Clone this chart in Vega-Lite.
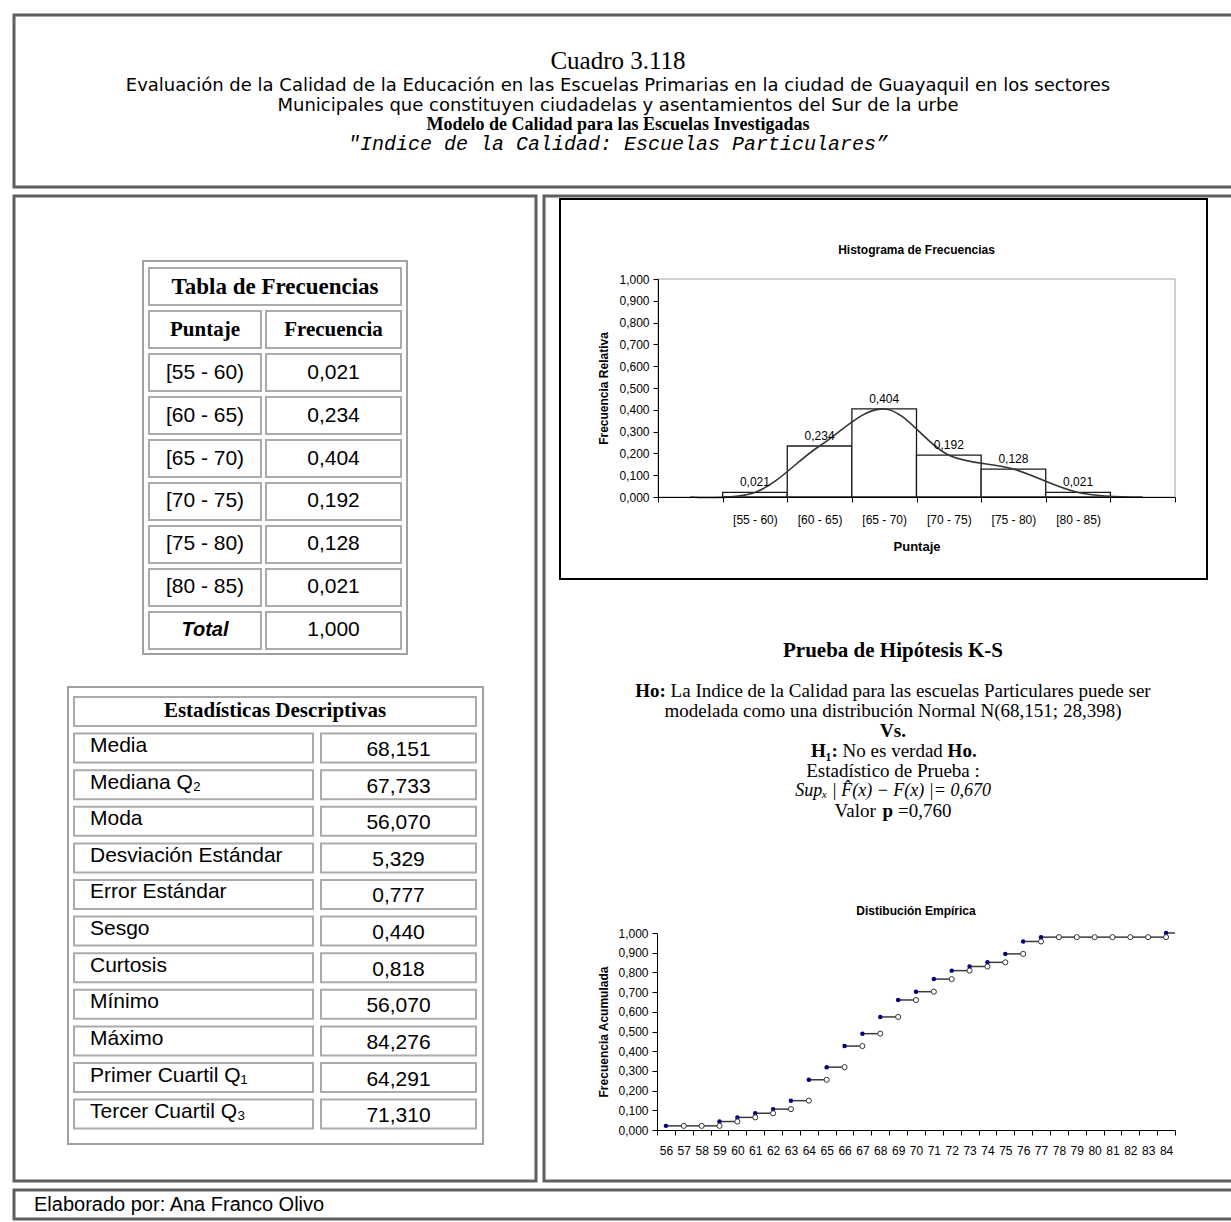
{
  "$schema": "https://vega.github.io/schema/vega-lite/v6.json",
  "padding": {"left": 12, "top": 13, "right": 0, "bottom": 0},
  "background": "white",
  "spacing": 5,
  "datasets": {
    "titulo": [
      {"linea": "cuadro", "texto": "Cuadro 3.118"},
      {"linea": "l1", "texto": "Evaluación de la Calidad de la Educación en las Escuelas Primarias en la ciudad de Guayaquil en los sectores"},
      {"linea": "l2", "texto": "Municipales que constituyen ciudadelas y asentamientos del Sur de la urbe"},
      {"linea": "modelo", "texto": "Modelo de Calidad para las Escuelas Investigadas"},
      {"linea": "indice", "texto": "\"Indice de la Calidad: Escuelas Particulares”"}
    ],
    "tablas": [{"tabla": "Tabla de Frecuencias"}, {"tabla": "Estadísticas Descriptivas"}],
    "columnas": [{"columna": "Puntaje"}, {"columna": "Frecuencia"}],
    "frecuencias": [
      {"Puntaje": "[55 - 60)", "desde": 55, "hasta": 60, "marca": 57.5, "Frecuencia": 0.021},
      {"Puntaje": "[60 - 65)", "desde": 60, "hasta": 65, "marca": 62.5, "Frecuencia": 0.234},
      {"Puntaje": "[65 - 70)", "desde": 65, "hasta": 70, "marca": 67.5, "Frecuencia": 0.404},
      {"Puntaje": "[70 - 75)", "desde": 70, "hasta": 75, "marca": 72.5, "Frecuencia": 0.192},
      {"Puntaje": "[75 - 80)", "desde": 75, "hasta": 80, "marca": 77.5, "Frecuencia": 0.128},
      {"Puntaje": "[80 - 85)", "desde": 80, "hasta": 85, "marca": 82.5, "Frecuencia": 0.021}
    ],
    "total": [{"Puntaje": "Total", "Frecuencia": 1.0}],
    "estadisticas": [
      {"estadistico": "Media", "valor": 68.151},
      {"estadistico": "Mediana   Q₂", "valor": 67.733},
      {"estadistico": "Moda", "valor": 56.070},
      {"estadistico": "Desviación Estándar", "valor": 5.329},
      {"estadistico": "Error Estándar", "valor": 0.777},
      {"estadistico": "Sesgo", "valor": 0.440},
      {"estadistico": "Curtosis", "valor": 0.818},
      {"estadistico": "Mínimo", "valor": 56.070},
      {"estadistico": "Máximo", "valor": 84.276},
      {"estadistico": "Primer Cuartil  Q₁", "valor": 64.291},
      {"estadistico": "Tercer Cuartil Q₃", "valor": 71.310}
    ],
    "graficos": [{"grafico": "Histograma de Frecuencias"}, {"grafico": "Distibución Empírica"}],
    "curva": [
      {"marca": 52.5, "Frecuencia": 0},
      {"marca": 57.5, "Frecuencia": 0.021},
      {"marca": 62.5, "Frecuencia": 0.234},
      {"marca": 67.5, "Frecuencia": 0.404},
      {"marca": 72.5, "Frecuencia": 0.192},
      {"marca": 77.5, "Frecuencia": 0.128},
      {"marca": 82.5, "Frecuencia": 0.021},
      {"marca": 87.5, "Frecuencia": 0}
    ],
    "prueba": [
      {"linea": "titulo", "tramo": 1, "texto": "Prueba de Hipótesis K-S"},
      {"linea": "ho", "tramo": 1, "texto": "Ho:"},
      {"linea": "ho", "tramo": 2, "texto": "La Indice de la Calidad para las escuelas Particulares puede ser"},
      {"linea": "modelada", "tramo": 1, "texto": "modelada como una distribución Normal N(68,151; 28,398)"},
      {"linea": "vs", "tramo": 1, "texto": "Vs."},
      {"linea": "h1", "tramo": 1, "texto": "H₁:"},
      {"linea": "h1", "tramo": 2, "texto": "No es verdad"},
      {"linea": "h1", "tramo": 3, "texto": "Ho."},
      {"linea": "estadistico", "tramo": 1, "texto": "Estadístico de Prueba :"},
      {"linea": "sup", "tramo": 1, "texto": "Supₓ | F̂(x) − F(x) |= 0,670"},
      {"linea": "valor", "tramo": 1, "texto": "Valor"},
      {"linea": "valor", "tramo": 2, "texto": "p"},
      {"linea": "valor", "tramo": 3, "texto": "=0,760"}
    ],
    "empirica": [
      {"puntaje": 56, "siguiente": 57, "acumulada": 0.021},
      {"puntaje": 57, "siguiente": 58, "acumulada": 0.021},
      {"puntaje": 58, "siguiente": 59, "acumulada": 0.021},
      {"puntaje": 59, "siguiente": 60, "acumulada": 0.043},
      {"puntaje": 60, "siguiente": 61, "acumulada": 0.064},
      {"puntaje": 61, "siguiente": 62, "acumulada": 0.085},
      {"puntaje": 62, "siguiente": 63, "acumulada": 0.106},
      {"puntaje": 63, "siguiente": 64, "acumulada": 0.149},
      {"puntaje": 64, "siguiente": 65, "acumulada": 0.255},
      {"puntaje": 65, "siguiente": 66, "acumulada": 0.319},
      {"puntaje": 66, "siguiente": 67, "acumulada": 0.426},
      {"puntaje": 67, "siguiente": 68, "acumulada": 0.489},
      {"puntaje": 68, "siguiente": 69, "acumulada": 0.574},
      {"puntaje": 69, "siguiente": 70, "acumulada": 0.660},
      {"puntaje": 70, "siguiente": 71, "acumulada": 0.702},
      {"puntaje": 71, "siguiente": 72, "acumulada": 0.766},
      {"puntaje": 72, "siguiente": 73, "acumulada": 0.809},
      {"puntaje": 73, "siguiente": 74, "acumulada": 0.830},
      {"puntaje": 74, "siguiente": 75, "acumulada": 0.851},
      {"puntaje": 75, "siguiente": 76, "acumulada": 0.894},
      {"puntaje": 76, "siguiente": 77, "acumulada": 0.957},
      {"puntaje": 77, "siguiente": 78, "acumulada": 0.979},
      {"puntaje": 78, "siguiente": 79, "acumulada": 0.979},
      {"puntaje": 79, "siguiente": 80, "acumulada": 0.979},
      {"puntaje": 80, "siguiente": 81, "acumulada": 0.979},
      {"puntaje": 81, "siguiente": 82, "acumulada": 0.979},
      {"puntaje": 82, "siguiente": 83, "acumulada": 0.979},
      {"puntaje": 83, "siguiente": 84, "acumulada": 0.979},
      {"puntaje": 84, "siguiente": 84.5, "acumulada": 1.0}
    ],
    "pie": [{"texto": "Elaborado por: Ana  Franco Olivo"}]
  },
  "vconcat": [
    {
      "width": 1230,
      "height": 172,
      "view": {"stroke": "#5f5f5f", "strokeWidth": 3},
      "data": {"name": "titulo"},
      "encoding": {
        "y": {"field": "linea", "type": "nominal", "scale": {"type": "point", "domain": ["cuadro", "l1", "l2", "modelo", "indice"], "range": [55, 127], "padding": 0}, "axis": null},
        "text": {"field": "texto"}
      },
      "layer": [
        {"transform": [{"filter": "datum.linea == 'cuadro'"}], "mark": {"type": "text", "font": "Liberation Serif", "fontSize": 25, "dx": -11, "dy": -9, "color": "#000"}},
        {"transform": [{"filter": "datum.linea == 'l1'"}], "mark": {"type": "text", "font": "DejaVu Sans", "fontSize": 18, "dx": -11, "dy": -2, "color": "#000"}},
        {"transform": [{"filter": "datum.linea == 'l2'"}], "mark": {"type": "text", "font": "DejaVu Sans", "fontSize": 18, "dx": -11, "color": "#000"}},
        {"transform": [{"filter": "datum.linea == 'modelo'"}], "mark": {"type": "text", "font": "Liberation Serif", "fontWeight": "bold", "fontSize": 18, "dx": -11, "dy": 1, "color": "#000"}},
        {"transform": [{"filter": "datum.linea == 'indice'"}], "mark": {"type": "text", "font": "Liberation Mono", "fontStyle": "italic", "fontSize": 20, "dx": -11, "dy": 2, "color": "#000"}}
      ]
    },
    {
      "spacing": 4,
      "hconcat": [
        {
          "width": 522,
          "height": 985,
          "view": {"stroke": "#5f5f5f", "strokeWidth": 3},
          "resolve": {"scale": {"x": "independent", "y": "independent"}},
          "layer": [
            {
              "data": {"name": "tablas"},
              "transform": [{"filter": "datum.tabla == 'Tabla de Frecuencias'"}],
              "mark": {"type": "rect", "fill": "white", "fillOpacity": 0, "stroke": "#a0a0a0", "strokeWidth": 2},
              "encoding": {
                "x": {"field": "tabla", "type": "nominal", "scale": {"type": "band", "domain": ["Tabla de Frecuencias"], "range": [129, 393], "paddingInner": 0, "paddingOuter": 0}, "axis": null},
                "y": {"field": "tabla", "type": "nominal", "scale": {"type": "band", "domain": ["Tabla de Frecuencias"], "range": [65, 458], "paddingInner": 0, "paddingOuter": 0}, "axis": null}
              }
            },
            {
              "data": {"name": "tablas"},
              "transform": [{"filter": "datum.tabla == 'Tabla de Frecuencias'"}],
              "encoding": {
                "x": {"field": "tabla", "type": "nominal", "scale": {"type": "band", "domain": ["Tabla de Frecuencias"], "range": [135, 387], "paddingInner": 0, "paddingOuter": 0}, "axis": null},
                "y": {"field": "tabla", "type": "nominal", "scale": {"type": "band", "domain": ["Tabla de Frecuencias", "Puntaje", "[55 - 60)", "[60 - 65)", "[65 - 70)", "[70 - 75)", "[75 - 80)", "[80 - 85)", "Total"], "range": [72, 453], "paddingInner": 0.1395, "paddingOuter": 0}, "axis": null}
              },
              "layer": [
                {"mark": {"type": "rect", "fill": "white", "stroke": "#ababab", "strokeWidth": 2}},
                {"mark": {"type": "text", "font": "Liberation Serif", "fontWeight": "bold", "fontSize": 23, "color": "#000"}, "encoding": {"text": {"field": "tabla"}}}
              ]
            },
            {
              "encoding": {
                "x": {"datum": "Puntaje", "type": "nominal", "scale": {"type": "band", "domain": ["Puntaje"], "range": [135, 247], "paddingInner": 0, "paddingOuter": 0}, "axis": null}
              },
              "layer": [
                {
                  "data": {"name": "columnas"},
                  "transform": [{"filter": "datum.columna == 'Puntaje'"}],
                  "encoding": {"y": {"datum": "Puntaje", "type": "nominal", "scale": {"type": "band", "domain": ["Tabla de Frecuencias", "Puntaje", "[55 - 60)", "[60 - 65)", "[65 - 70)", "[70 - 75)", "[75 - 80)", "[80 - 85)", "Total"], "range": [72, 453], "paddingInner": 0.1395, "paddingOuter": 0}, "axis": null}},
                  "layer": [
                    {"mark": {"type": "rect", "fill": "white", "stroke": "#ababab", "strokeWidth": 2}},
                    {"mark": {"type": "text", "font": "Liberation Serif", "fontWeight": "bold", "fontSize": 21, "color": "#000"}, "encoding": {"text": {"field": "columna"}}}
                  ]
                },
                {
                  "data": {"name": "frecuencias"},
                  "encoding": {"y": {"field": "Puntaje", "type": "nominal", "scale": {"type": "band", "domain": ["Tabla de Frecuencias", "Puntaje", "[55 - 60)", "[60 - 65)", "[65 - 70)", "[70 - 75)", "[75 - 80)", "[80 - 85)", "Total"], "range": [72, 453], "paddingInner": 0.1395, "paddingOuter": 0}, "axis": null}},
                  "layer": [
                    {"mark": {"type": "rect", "fill": "white", "stroke": "#ababab", "strokeWidth": 2}},
                    {"mark": {"type": "text", "font": "Liberation Sans", "fontSize": 21, "color": "#000"}, "encoding": {"text": {"field": "Puntaje"}}}
                  ]
                },
                {
                  "data": {"name": "total"},
                  "encoding": {"y": {"field": "Puntaje", "type": "nominal", "scale": {"type": "band", "domain": ["Tabla de Frecuencias", "Puntaje", "[55 - 60)", "[60 - 65)", "[65 - 70)", "[70 - 75)", "[75 - 80)", "[80 - 85)", "Total"], "range": [72, 453], "paddingInner": 0.1395, "paddingOuter": 0}, "axis": null}},
                  "layer": [
                    {"mark": {"type": "rect", "fill": "white", "stroke": "#ababab", "strokeWidth": 2}},
                    {"mark": {"type": "text", "font": "Liberation Sans", "fontWeight": "bold", "fontStyle": "italic", "fontSize": 20, "color": "#000"}, "encoding": {"text": {"field": "Puntaje"}}}
                  ]
                }
              ]
            },
            {
              "encoding": {
                "x": {"datum": "Frecuencia", "type": "nominal", "scale": {"type": "band", "domain": ["Frecuencia"], "range": [252, 387], "paddingInner": 0, "paddingOuter": 0}, "axis": null}
              },
              "layer": [
                {
                  "data": {"name": "columnas"},
                  "transform": [{"filter": "datum.columna == 'Frecuencia'"}],
                  "encoding": {"y": {"datum": "Puntaje", "type": "nominal", "scale": {"type": "band", "domain": ["Tabla de Frecuencias", "Puntaje", "[55 - 60)", "[60 - 65)", "[65 - 70)", "[70 - 75)", "[75 - 80)", "[80 - 85)", "Total"], "range": [72, 453], "paddingInner": 0.1395, "paddingOuter": 0}, "axis": null}},
                  "layer": [
                    {"mark": {"type": "rect", "fill": "white", "stroke": "#ababab", "strokeWidth": 2}},
                    {"mark": {"type": "text", "font": "Liberation Serif", "fontWeight": "bold", "fontSize": 21, "color": "#000"}, "encoding": {"text": {"field": "columna"}}}
                  ]
                },
                {
                  "data": {"name": "frecuencias"},
                  "encoding": {"y": {"field": "Puntaje", "type": "nominal", "scale": {"type": "band", "domain": ["Tabla de Frecuencias", "Puntaje", "[55 - 60)", "[60 - 65)", "[65 - 70)", "[70 - 75)", "[75 - 80)", "[80 - 85)", "Total"], "range": [72, 453], "paddingInner": 0.1395, "paddingOuter": 0}, "axis": null}},
                  "layer": [
                    {"mark": {"type": "rect", "fill": "white", "stroke": "#ababab", "strokeWidth": 2}},
                    {"mark": {"type": "text", "font": "Liberation Sans", "fontSize": 21, "color": "#000"}, "encoding": {"text": {"field": "Frecuencia", "type": "quantitative", "format": ".3f"}}}
                  ]
                },
                {
                  "data": {"name": "total"},
                  "encoding": {"y": {"field": "Puntaje", "type": "nominal", "scale": {"type": "band", "domain": ["Tabla de Frecuencias", "Puntaje", "[55 - 60)", "[60 - 65)", "[65 - 70)", "[70 - 75)", "[75 - 80)", "[80 - 85)", "Total"], "range": [72, 453], "paddingInner": 0.1395, "paddingOuter": 0}, "axis": null}},
                  "layer": [
                    {"mark": {"type": "rect", "fill": "white", "stroke": "#ababab", "strokeWidth": 2}},
                    {"mark": {"type": "text", "font": "Liberation Sans", "fontSize": 21, "color": "#000"}, "encoding": {"text": {"field": "Frecuencia", "type": "quantitative", "format": ".3f"}}}
                  ]
                }
              ]
            },
            {
              "data": {"name": "tablas"},
              "transform": [{"filter": "datum.tabla == 'Estadísticas Descriptivas'"}],
              "mark": {"type": "rect", "fill": "white", "fillOpacity": 0, "stroke": "#a0a0a0", "strokeWidth": 2},
              "encoding": {
                "x": {"field": "tabla", "type": "nominal", "scale": {"type": "band", "domain": ["Estadísticas Descriptivas"], "range": [54, 469], "paddingInner": 0, "paddingOuter": 0}, "axis": null},
                "y": {"field": "tabla", "type": "nominal", "scale": {"type": "band", "domain": ["Estadísticas Descriptivas"], "range": [491, 948], "paddingInner": 0, "paddingOuter": 0}, "axis": null}
              }
            },
            {
              "data": {"name": "tablas"},
              "transform": [{"filter": "datum.tabla == 'Estadísticas Descriptivas'"}],
              "encoding": {
                "x": {"field": "tabla", "type": "nominal", "scale": {"type": "band", "domain": ["Estadísticas Descriptivas"], "range": [60, 462], "paddingInner": 0, "paddingOuter": 0}, "axis": null},
                "y": {"field": "tabla", "type": "nominal", "scale": {"type": "band", "domain": ["Estadísticas Descriptivas", "Media", "Mediana   Q₂", "Moda", "Desviación Estándar", "Error Estándar", "Sesgo", "Curtosis", "Mínimo", "Máximo", "Primer Cuartil  Q₁", "Tercer Cuartil Q₃"], "range": [501, 932.6], "paddingInner": 0.2077, "paddingOuter": 0}, "axis": null}
              },
              "layer": [
                {"mark": {"type": "rect", "fill": "white", "stroke": "#ababab", "strokeWidth": 2}},
                {"mark": {"type": "text", "font": "Liberation Serif", "fontWeight": "bold", "fontSize": 21, "color": "#000"}, "encoding": {"text": {"field": "tabla"}}}
              ]
            },
            {
              "data": {"name": "estadisticas"},
              "encoding": {
                "x": {"datum": "Estadístico", "type": "nominal", "scale": {"type": "band", "domain": ["Estadístico"], "range": [60, 299], "paddingInner": 0, "paddingOuter": 0}, "axis": null},
                "y": {"field": "estadistico", "type": "nominal", "scale": {"type": "band", "domain": ["Estadísticas Descriptivas", "Media", "Mediana   Q₂", "Moda", "Desviación Estándar", "Error Estándar", "Sesgo", "Curtosis", "Mínimo", "Máximo", "Primer Cuartil  Q₁", "Tercer Cuartil Q₃"], "range": [501, 932.6], "paddingInner": 0.2077, "paddingOuter": 0}, "axis": null}
              },
              "layer": [
                {"mark": {"type": "rect", "fill": "white", "stroke": "#ababab", "strokeWidth": 2}},
                {
                  "mark": {"type": "text", "font": "Liberation Sans", "fontSize": 21, "align": "left", "dx": 16, "dy": -2, "color": "#000"},
                  "encoding": {
                    "x": {"datum": "Estadístico", "type": "nominal", "bandPosition": 0, "scale": {"type": "band", "domain": ["Estadístico"], "range": [60, 299], "paddingInner": 0, "paddingOuter": 0}, "axis": null},
                    "text": {"field": "estadistico"}
                  }
                }
              ]
            },
            {
              "data": {"name": "estadisticas"},
              "encoding": {
                "x": {"datum": "Valor", "type": "nominal", "scale": {"type": "band", "domain": ["Valor"], "range": [307, 462], "paddingInner": 0, "paddingOuter": 0}, "axis": null},
                "y": {"field": "estadistico", "type": "nominal", "scale": {"type": "band", "domain": ["Estadísticas Descriptivas", "Media", "Mediana   Q₂", "Moda", "Desviación Estándar", "Error Estándar", "Sesgo", "Curtosis", "Mínimo", "Máximo", "Primer Cuartil  Q₁", "Tercer Cuartil Q₃"], "range": [501, 932.6], "paddingInner": 0.2077, "paddingOuter": 0}, "axis": null}
              },
              "layer": [
                {"mark": {"type": "rect", "fill": "white", "stroke": "#ababab", "strokeWidth": 2}},
                {"mark": {"type": "text", "font": "Liberation Sans", "fontSize": 21, "dy": 2, "color": "#000"}, "encoding": {"text": {"field": "valor", "type": "quantitative", "format": ".3f"}}}
              ]
            }
          ]
        },
        {
          "width": 698,
          "height": 985,
          "view": {"stroke": "#5f5f5f", "strokeWidth": 3},
          "resolve": {"scale": {"x": "independent", "y": "independent"}, "axis": {"x": "independent", "y": "independent"}},
          "layer": [
            {
              "data": {"name": "graficos"},
              "transform": [{"filter": "datum.grafico == 'Histograma de Frecuencias'"}],
              "mark": {"type": "rect", "fill": "white", "fillOpacity": 0, "stroke": "#000", "strokeWidth": 2},
              "encoding": {
                "x": {"field": "grafico", "type": "nominal", "scale": {"type": "band", "domain": ["Histograma de Frecuencias"], "range": [16, 663], "paddingInner": 0, "paddingOuter": 0}, "axis": null},
                "y": {"field": "grafico", "type": "nominal", "scale": {"type": "band", "domain": ["Histograma de Frecuencias"], "range": [3, 383], "paddingInner": 0, "paddingOuter": 0}, "axis": null}
              }
            },
            {
              "layer": [
                {
                  "data": {"name": "graficos"},
                  "transform": [{"filter": "datum.grafico == 'Histograma de Frecuencias'"}],
                  "mark": {"type": "rect", "fill": "white", "fillOpacity": 0, "stroke": "#a0a0a0", "strokeWidth": 1},
                  "encoding": {
                    "x": {"datum": 50, "type": "quantitative", "scale": {"domain": [50, 90], "range": [114, 631], "nice": false, "zero": false},
                      "axis": {"orient": "bottom", "offset": -684, "values": [50, 55, 60, 65, 70, 75, 80, 85, 90], "tickCount": 50, "labelExpr": "datum.value >= 55 && datum.value <= 80 ? '[' + datum.value + ' - ' + (datum.value + 5) + ')' : ''", "labelOffset": 32.3, "tickSize": 5, "labelPadding": 12, "labelFont": "Liberation Sans Narrow, Arial Narrow, Liberation Sans, sans-serif", "labelFontSize": 12, "labelColor": "#000", "labelFlush": false, "labelOverlap": false, "labelBound": false, "title": "Puntaje", "titleFont": "Liberation Sans Narrow, Arial Narrow, Liberation Sans, sans-serif", "titleFontSize": 13, "titleFontWeight": "bold", "titleColor": "#000", "titlePadding": 15, "grid": false, "domainColor": "#000", "tickColor": "#000", "zindex": 1}},
                    "x2": {"datum": 90},
                    "y": {"datum": 0, "type": "quantitative", "scale": {"domain": [0, 1], "range": [301, 83], "nice": false},
                      "axis": {"orient": "left", "offset": -114, "values": [0, 0.1, 0.2, 0.3, 0.4, 0.5, 0.6, 0.7, 0.8, 0.9, 1], "tickCount": 50, "format": ".3f", "tickSize": 5, "labelPadding": 4, "labelFont": "Liberation Sans Narrow, Arial Narrow, Liberation Sans, sans-serif", "labelFontSize": 12, "labelColor": "#000", "title": "Frecuencia Relativa", "titleFont": "Liberation Sans", "titleFontSize": 12, "titleFontWeight": "bold", "titleColor": "#000", "titlePadding": 8, "grid": false, "domainColor": "#000", "tickColor": "#000", "zindex": 1}},
                    "y2": {"datum": 1}
                  }
                },
                {
                  "data": {"name": "frecuencias"},
                  "mark": {"type": "rect", "fill": "white", "stroke": "#1a1a1a", "strokeWidth": 1.3},
                  "encoding": {
                    "x": {"field": "desde", "type": "quantitative"},
                    "x2": {"field": "hasta"},
                    "y": {"field": "Frecuencia", "type": "quantitative"},
                    "y2": {"datum": 0}
                  }
                },
                {
                  "data": {"name": "curva"},
                  "mark": {"type": "line", "interpolate": "catmull-rom", "color": "#333333", "strokeWidth": 1.6},
                  "encoding": {
                    "x": {"field": "marca", "type": "quantitative"},
                    "y": {"field": "Frecuencia", "type": "quantitative"}
                  }
                },
                {
                  "data": {"name": "frecuencias"},
                  "mark": {"type": "text", "font": "Liberation Sans Narrow, Arial Narrow, Liberation Sans, sans-serif", "fontSize": 12, "dy": -10, "color": "#000"},
                  "encoding": {
                    "x": {"field": "marca", "type": "quantitative"},
                    "y": {"field": "Frecuencia", "type": "quantitative"},
                    "text": {"field": "Frecuencia", "type": "quantitative", "format": ".3f"}
                  }
                },
                {
                  "data": {"name": "graficos"},
                  "transform": [{"filter": "datum.grafico == 'Histograma de Frecuencias'"}],
                  "mark": {"type": "text", "font": "Liberation Sans Narrow, Arial Narrow, Liberation Sans, sans-serif", "fontWeight": "bold", "fontSize": 12, "dy": -29, "color": "#000"},
                  "encoding": {
                    "x": {"datum": 70, "type": "quantitative"},
                    "y": {"datum": 1, "type": "quantitative"},
                    "text": {"field": "grafico"}
                  }
                }
              ]
            },
            {
              "data": {"name": "prueba"},
              "encoding": {
                "y": {"field": "linea", "type": "nominal", "scale": {"type": "point", "domain": ["titulo", "espacio", "ho", "modelada", "vs", "h1", "estadistico", "sup", "valor"], "range": [455, 615], "padding": 0}, "axis": null},
                "text": {"field": "texto"}
              },
              "layer": [
                {"transform": [{"filter": "datum.linea == 'titulo'"}], "mark": {"type": "text", "font": "Liberation Serif", "fontWeight": "bold", "fontSize": 21, "color": "#000"}},
                {"transform": [{"filter": "datum.linea == 'ho' && datum.tramo == 1"}], "mark": {"type": "text", "font": "Liberation Serif", "fontWeight": "bold", "fontSize": 19, "align": "left", "dx": -257.7, "color": "#000"}},
                {"transform": [{"filter": "datum.linea == 'ho' && datum.tramo == 2"}], "mark": {"type": "text", "font": "Liberation Serif", "fontSize": 19, "align": "left", "dx": -222.4, "color": "#000"}},
                {"transform": [{"filter": "datum.linea == 'modelada'"}], "mark": {"type": "text", "font": "Liberation Serif", "fontSize": 19, "color": "#000"}},
                {"transform": [{"filter": "datum.linea == 'vs'"}], "mark": {"type": "text", "font": "Liberation Serif", "fontWeight": "bold", "fontSize": 19, "color": "#000"}},
                {"transform": [{"filter": "datum.linea == 'h1' && datum.tramo == 1"}], "mark": {"type": "text", "font": "Liberation Serif", "fontWeight": "bold", "fontSize": 19, "align": "right", "dx": -55.1, "color": "#000"}},
                {"transform": [{"filter": "datum.linea == 'h1' && datum.tramo == 2"}], "mark": {"type": "text", "font": "Liberation Serif", "fontSize": 19, "align": "left", "dx": -50.4, "color": "#000"}},
                {"transform": [{"filter": "datum.linea == 'h1' && datum.tramo == 3"}], "mark": {"type": "text", "font": "Liberation Serif", "fontWeight": "bold", "fontSize": 19, "align": "left", "dx": 54.6, "color": "#000"}},
                {"transform": [{"filter": "datum.linea == 'estadistico'"}], "mark": {"type": "text", "font": "Liberation Serif", "fontSize": 19, "color": "#000"}},
                {"transform": [{"filter": "datum.linea == 'sup'"}], "mark": {"type": "text", "font": "Liberation Serif", "fontStyle": "italic", "fontSize": 18, "color": "#000"}},
                {"transform": [{"filter": "datum.linea == 'valor' && datum.tramo == 1"}], "mark": {"type": "text", "font": "Liberation Serif", "fontSize": 19, "align": "left", "dx": -58.4, "color": "#000"}},
                {"transform": [{"filter": "datum.linea == 'valor' && datum.tramo == 2"}], "mark": {"type": "text", "font": "Liberation Serif", "fontWeight": "bold", "fontSize": 19, "align": "left", "dx": -10.4, "color": "#000"}},
                {"transform": [{"filter": "datum.linea == 'valor' && datum.tramo == 3"}], "mark": {"type": "text", "font": "Liberation Serif", "fontSize": 19, "align": "left", "dx": 5, "color": "#000"}}
              ]
            },
            {
              "layer": [
                {
                  "data": {"name": "empirica"},
                  "mark": {"type": "rule", "color": "#3a3a3a", "strokeWidth": 1.5},
                  "encoding": {
                    "x": {"field": "puntaje", "type": "quantitative", "scale": {"domain": [55.5, 84.5], "range": [113, 631], "nice": false, "zero": false},
                      "axis": {"orient": "bottom", "offset": -51, "values": [55.5, 56.5, 57.5, 58.5, 59.5, 60.5, 61.5, 62.5, 63.5, 64.5, 65.5, 66.5, 67.5, 68.5, 69.5, 70.5, 71.5, 72.5, 73.5, 74.5, 75.5, 76.5, 77.5, 78.5, 79.5, 80.5, 81.5, 82.5, 83.5, 84.5], "tickCount": 100, "labelExpr": "datum.value < 84 ? format(datum.value + 0.5, 'd') : ''", "labelOffset": 8.93, "tickSize": 5, "labelPadding": 10, "labelFont": "Liberation Sans Narrow, Arial Narrow, Liberation Sans, sans-serif", "labelFontSize": 12, "labelColor": "#000", "labelFlush": false, "labelOverlap": false, "labelBound": false, "title": null, "grid": false, "domainColor": "#000", "tickColor": "#000", "zindex": 1}},
                    "x2": {"field": "siguiente"},
                    "y": {"field": "acumulada", "type": "quantitative", "scale": {"domain": [0, 1], "range": [934, 737], "nice": false},
                      "axis": {"orient": "left", "offset": -113, "values": [0, 0.1, 0.2, 0.3, 0.4, 0.5, 0.6, 0.7, 0.8, 0.9, 1], "tickCount": 50, "format": ".3f", "tickSize": 5, "labelPadding": 4, "labelFont": "Liberation Sans Narrow, Arial Narrow, Liberation Sans, sans-serif", "labelFontSize": 12, "labelColor": "#000", "title": "Frecuencia Acumulada", "titleFont": "Liberation Sans", "titleFontSize": 12, "titleFontWeight": "bold", "titleColor": "#000", "titlePadding": 7, "grid": false, "domainColor": "#000", "tickColor": "#000", "zindex": 1}}
                  }
                },
                {
                  "data": {"name": "empirica"},
                  "mark": {"type": "point", "shape": "circle", "filled": true, "color": "#00007f", "size": 20, "opacity": 1},
                  "encoding": {
                    "x": {"field": "puntaje", "type": "quantitative"},
                    "y": {"field": "acumulada", "type": "quantitative"}
                  }
                },
                {
                  "data": {"name": "empirica"},
                  "transform": [{"filter": "datum.puntaje < 84"}],
                  "mark": {"type": "point", "shape": "circle", "filled": true, "fill": "white", "stroke": "#333333", "strokeWidth": 1, "size": 26, "opacity": 1},
                  "encoding": {
                    "x": {"field": "siguiente", "type": "quantitative"},
                    "y": {"field": "acumulada", "type": "quantitative"}
                  }
                },
                {
                  "data": {"name": "graficos"},
                  "transform": [{"filter": "datum.grafico == 'Distibución Empírica'"}],
                  "mark": {"type": "text", "font": "Liberation Sans Narrow, Arial Narrow, Liberation Sans, sans-serif", "fontWeight": "bold", "fontSize": 12, "dy": -22, "color": "#000"},
                  "encoding": {
                    "x": {"datum": 70, "type": "quantitative"},
                    "y": {"datum": 1, "type": "quantitative"},
                    "text": {"field": "grafico"}
                  }
                }
              ]
            }
          ]
        }
      ]
    },
    {
      "width": 1230,
      "height": 29,
      "view": {"stroke": "#5f5f5f", "strokeWidth": 3},
      "data": {"name": "pie"},
      "mark": {"type": "text", "align": "left", "dx": 20, "font": "Liberation Sans", "fontSize": 20, "color": "#000"},
      "encoding": {
        "x": {"field": "texto", "type": "nominal", "scale": {"type": "point", "padding": 0, "align": 0}, "axis": null},
        "text": {"field": "texto"}
      }
    }
  ],
  "config": {
    "view": {"stroke": null},
    "axis": {"labelOverlap": false},
    "locale": {"number": {"decimal": ",", "thousands": ".", "grouping": [3], "currency": ["$", ""]}}
  }
}
